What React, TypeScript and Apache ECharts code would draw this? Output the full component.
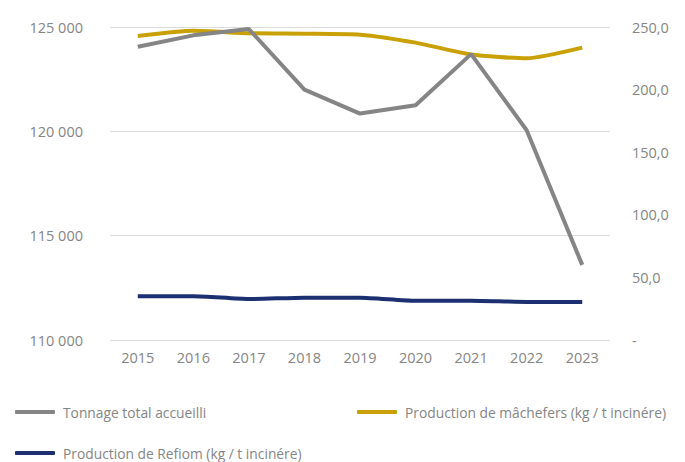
import React, { useEffect, useRef } from "react";
import * as echarts from "echarts";

const years = ["2015", "2016", "2017", "2018", "2019", "2020", "2021", "2022", "2023"];
const tonnage = [124050, 124600, 124900, 122000, 120850, 121250, 123700, 120050, 113600];
const machefers = [242.8, 247, 245, 244.7, 243.9, 237.5, 228, 225, 233.5];
const refiom = [35, 35, 32.7, 33.8, 33.8, 31.4, 31.4, 30.4, 30.4];
const seriesNames = [
  "Tonnage total accueilli",
  "Production de mâchefers (kg / t incinére)",
  "Production de Refiom (kg / t incinére)",
];
const colors = ["#858585", "#c9a106", "#1c2f70"];

const font = "'Open Sans', Lato, sans-serif";
const textColor = "#858585";

export default function App() {
  const ref = useRef<HTMLDivElement>(null);
  useEffect(() => {
    const chart = echarts.init(ref.current!, null, { renderer: "svg" });
    const legendBase = {
      orient: "horizontal" as const,
      icon: "roundRect",
      itemWidth: 40,
      itemHeight: 4,
      itemGap: 8,
      padding: 0,
      textStyle: { color: textColor, fontSize: 13.8, fontFamily: font, padding: [0, 0, 0, 3] },
    };
    chart.setOption({
      animation: false,
      backgroundColor: "#fff",
      grid: { left: 110, right: 75, top: 27, bottom: 122, containLabel: false },
      legend: [
        { ...legendBase, data: [seriesNames[0]], left: 15, top: 405 },
        { ...legendBase, data: [seriesNames[1]], left: 357, top: 405 },
        { ...legendBase, data: [seriesNames[2]], left: 15, top: 446 },
      ],
      xAxis: {
        type: "category",
        data: years,
        boundaryGap: true,
        axisLine: { show: false },
        axisTick: { show: false },
        axisLabel: { color: textColor, fontSize: 14.5, fontFamily: font, margin: 10 },
      },
      yAxis: [
        {
          type: "value",
          min: 110000,
          max: 125000,
          interval: 5000,
          axisLine: { show: false },
          axisTick: { show: false },
          splitLine: { lineStyle: { color: "#dcdcdc", width: 1 } },
          axisLabel: {
            color: textColor,
            fontSize: 14.5,
            fontFamily: font,
            margin: 27,
            formatter: (v: number) => {
              const s = String(Math.round(v));
              return s.slice(0, s.length - 3) + " " + s.slice(-3);
            },
          },
        },
        {
          type: "value",
          min: 0,
          max: 250,
          interval: 50,
          position: "right",
          axisLine: { show: false },
          axisTick: { show: false },
          splitLine: { show: false },
          axisLabel: {
            color: textColor,
            fontSize: 14.5,
            fontFamily: font,
            margin: 22,
            formatter: (v: number) => (v === 0 ? "-" : v.toFixed(1).replace(".", ",")),
          },
        },
      ],
      series: [
        {
          name: seriesNames[0],
          type: "line",
          yAxisIndex: 0,
          data: tonnage,
          showSymbol: false,
          symbol: "none",
          lineStyle: { color: colors[0], width: 4 },
          itemStyle: { color: colors[0] },
          z: 3,
        },
        {
          name: seriesNames[1],
          type: "line",
          yAxisIndex: 1,
          data: machefers,
          showSymbol: false,
          symbol: "none",
          smooth: 0.2,
          lineStyle: { color: colors[1], width: 4 },
          itemStyle: { color: colors[1] },
          z: 2,
        },
        {
          name: seriesNames[2],
          type: "line",
          yAxisIndex: 1,
          data: refiom,
          showSymbol: false,
          symbol: "none",
          smooth: 0.2,
          lineStyle: { color: colors[2], width: 4 },
          itemStyle: { color: colors[2] },
          z: 2,
        },
      ],
    });
    return () => chart.dispose();
  }, []);
  return (
    <div
      ref={ref}
      style={{ position: "fixed", left: 0, top: 0, width: 685, height: 462 }}
    />
  );
}
